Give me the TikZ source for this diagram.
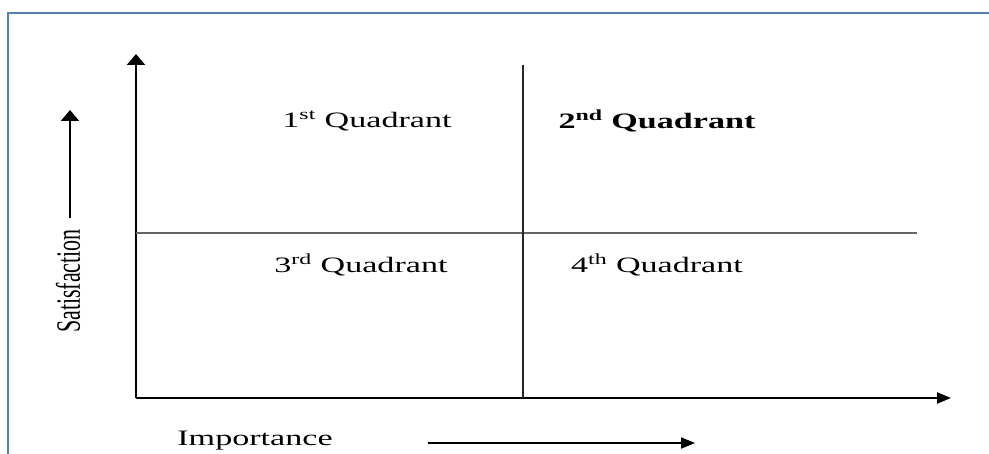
\documentclass[tikz,border=0pt]{standalone}
\usepackage{fontspec}
\setmainfont{Liberation Serif}
\usetikzlibrary{arrows.meta}
\definecolor{frameblue}{HTML}{4F81BD}
\definecolor{divgray}{HTML}{666666}
\tikzset{
  axis/.style={line width=2.3pt, black},
  divider/.style={line width=1.5pt, divgray},
  hhead/.style={-{Triangle[length=14pt,width=11pt]}},
  vhead/.style={-{Triangle[length=11pt,width=18pt]}},
  lbl/.style={inner sep=0pt, font=\fontsize{22}{24}\selectfont},
}
\newcommand{\wide}[1]{\scalebox{1.55}[1]{#1}}
\begin{document}
\begin{tikzpicture}[x=1pt,y=-1pt]
\useasboundingbox (0,0) rectangle (989,454);
\fill[white] (0,0) rectangle (989,454);
% blue frame (top and left)
\draw[frameblue, line width=2.8pt] (8,460) -- (8,13) -- (995,13);
% axes
\coordinate (O) at (136,398);
\coordinate (Ytip) at (136,54);
\coordinate (Xtip) at (951,398);
\draw[axis, vhead] (O) -- (Ytip);
\draw[axis, hhead] (O) -- (Xtip);
% dividers
\coordinate (Vtop) at (523,65);
\coordinate (Vbot) at (523,398);
\coordinate (Hl) at (136,233);
\coordinate (Hr) at (917,233);
\draw[divider] (Hl) -- (Hr);
\draw[line width=2pt, black!85] (Vtop) -- (Vbot);
% quadrant labels
\node[lbl] (q1) at (367,121) {\wide{1\textsuperscript{st} Quadrant}};
\node[lbl] (q2) at (657,121) {\wide{\bfseries 2\textsuperscript{nd} Quadrant}};
\node[lbl] (q3) at (361,265) {\wide{3\textsuperscript{rd} Quadrant}};
\node[lbl] (q4) at (657,265) {\wide{4\textsuperscript{th} Quadrant}};
% axis titles
\node[lbl] (sat) at (68,281) {\rotatebox{90}{\scalebox{1}[1.55]{Satisfaction}}};
\coordinate (Sbot) at (70,218);
\coordinate (Stop) at (70,110);
\draw[line width=2pt, vhead] (Sbot) -- (Stop);
\node[lbl] (imp) at (255,441) {\wide{Importance}};
\coordinate (Il) at (428,443);
\coordinate (Ir) at (695,443);
\draw[line width=2pt, hhead] (Il) -- (Ir);
\end{tikzpicture}
\end{document}
